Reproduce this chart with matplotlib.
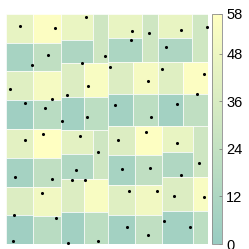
import matplotlib
matplotlib.use('Agg')
import matplotlib.pyplot as plt
import numpy as np
from matplotlib.collections import PatchCollection
from matplotlib.colors import LinearSegmentedColormap
from matplotlib.patches import Rectangle

# cell rectangles (unit square) and their values
x0 = [0, 0, 0, 0, 0, 0, 0, 0,
      0.134, 0.134, 0.134, 0.134, 0.134, 0.134, 0.134, 0.134,
      0.272, 0.272, 0.431,
      0.272, 0.388, 0.272, 0.388,
      0.272, 0.272, 0.431,
      0.272, 0.388, 0.272, 0.388,
      0.505, 0.505, 0.672, 0.754, 0.754, 0.919,
      0.505, 0.629, 0.754, 0.876, 0.505, 0.629, 0.754, 0.876,
      0.505, 0.505, 0.505, 0.505, 0.639, 0.639, 0.639, 0.639,
      0.772, 0.772, 0.772, 0.772, 0.926, 0.926, 0.926]
x1 = [0.134] * 8 + [0.272] * 8 + \
     [0.431, 0.431, 0.505,
      0.388, 0.505, 0.388, 0.505,
      0.431, 0.431, 0.505,
      0.388, 0.505, 0.388, 0.505,
      0.672, 0.672, 0.754, 0.919, 0.919, 1.0,
      0.629, 0.754, 0.876, 1.0, 0.629, 0.754, 0.876, 1.0,
      0.639, 0.639, 0.639, 0.639, 0.772, 0.772, 0.772, 0.772,
      0.926, 0.926, 0.926, 0.926, 1.0, 1.0, 1.0]
y0 = [0.875, 0.75, 0.625, 0.5, 0.375, 0.25, 0.125, 0,
      0.875, 0.75, 0.625, 0.5, 0.375, 0.25, 0.12, 0,
      0.888, 0.787, 0.787,
      0.641, 0.641, 0.497, 0.497,
      0.391, 0.283, 0.283,
      0.139, 0.139, 0, 0,
      0.896, 0.791, 0.791, 0.896, 0.791, 0.791,
      0.652, 0.652, 0.652, 0.652, 0.513, 0.513, 0.513, 0.513,
      0.387, 0.257, 0.126, 0, 0.387, 0.257, 0.126, 0,
      0.4, 0.291, 0.143, 0, 0.291, 0.143, 0]
y1 = [1, 0.875, 0.75, 0.625, 0.5, 0.375, 0.25, 0.125,
      1, 0.875, 0.75, 0.625, 0.5, 0.375, 0.25, 0.12,
      1, 0.888, 1,
      0.787, 0.787, 0.641, 0.641,
      0.497, 0.391, 0.497,
      0.283, 0.283, 0.139, 0.139,
      1, 0.896, 1, 1, 0.896, 1,
      0.791, 0.791, 0.791, 0.791, 0.652, 0.652, 0.652, 0.652,
      0.513, 0.387, 0.257, 0.126, 0.513, 0.387, 0.257, 0.126,
      0.513, 0.4, 0.291, 0.143, 0.513, 0.291, 0.143]
values = [44, 8, 40, 4, 42, 7, 38, 4,
          56, 22, 52, 18, 58, 22, 50, 18,
          46, 12, 30,
          38, 54, 6, 20,
          42, 13, 30,
          38, 54, 5, 20,
          45, 11, 30, 45, 12, 31,
          38, 52, 40, 56, 6, 20, 6, 22,
          38, 8, 40, 6, 57, 22, 50, 22,
          45, 13, 38, 6, 30, 54, 20]

# sample points
px = [0.071, 0.244, 0.396, 0.622, 0.709, 0.865, 0.996, 0.210, 0.490, 0.617,
      0.791, 0.130, 0.377, 0.513, 0.771, 0.979, 0.021, 0.404, 0.703, 0.226,
      0.300, 0.947, 0.096, 0.195, 0.541, 0.847, 0.277, 0.400, 0.718, 0.182,
      0.094, 0.366, 0.555, 0.695, 0.847, 0.454, 0.348, 0.576, 0.715, 0.954,
      0.046, 0.228, 0.326, 0.393, 0.868, 0.180, 0.611, 0.749, 0.833, 0.979,
      0.038, 0.246, 0.780, 0.600, 0.912, 0.704, 0.033, 0.309, 0.455]
py = [0.946, 0.940, 0.987, 0.927, 0.919, 0.929, 0.943, 0.820, 0.816, 0.886,
      0.857, 0.777, 0.789, 0.768, 0.761, 0.741, 0.673, 0.688, 0.710, 0.629,
      0.648, 0.650, 0.614, 0.590, 0.603, 0.610, 0.534, 0.553, 0.554, 0.480,
      0.450, 0.470, 0.451, 0.487, 0.441, 0.402, 0.323, 0.325, 0.332, 0.354,
      0.291, 0.283, 0.278, 0.277, 0.302, 0.220, 0.229, 0.230, 0.207, 0.205,
      0.126, 0.114, 0.099, 0.075, 0.072, 0.038, 0.014, 0.003, 0.014]

cbar_ticks = [0, 12, 24, 36, 48, 58]

plt.rcParams['font.family'] = ['Liberation Sans', 'DejaVu Sans']

# faded 'summer' colormap
cmap = LinearSegmentedColormap.from_list(
    'faded_summer', [(0.6, 0.8, 0.76), (1.0, 1.0, 0.76)])

fig = plt.figure(figsize=(2.49, 2.49), dpi=100)
ax = fig.add_axes([6 / 249, 5 / 249, 202 / 249, 230 / 249])
cax = fig.add_axes([212 / 249, 5 / 249, 10 / 249, 230 / 249])

rects = [Rectangle((a, c), b - a, d - c) for a, b, c, d in zip(x0, x1, y0, y1)]
pc = PatchCollection(rects, cmap=cmap, edgecolor=(1, 1, 1, 0.75), linewidth=0.6)
pc.set_array(np.array(values, dtype=float))
pc.set_clim(0, 58)
ax.add_collection(pc)

ax.scatter(px, py, s=5, color='black', linewidths=0, zorder=3, clip_on=False)
ax.set_xlim(0, 1)
ax.set_ylim(0, 1)
ax.axis('off')

cb = fig.colorbar(pc, cax=cax)
cb.set_ticks(cbar_ticks)
cb.outline.set_edgecolor('#8c8c8c')
cb.outline.set_linewidth(0.6)
cax.tick_params(direction='in', length=2.5, width=0.5, color='#6e6e6e',
                labelsize=10.5, pad=3)

fig.savefig('out.png', dpi=100)
